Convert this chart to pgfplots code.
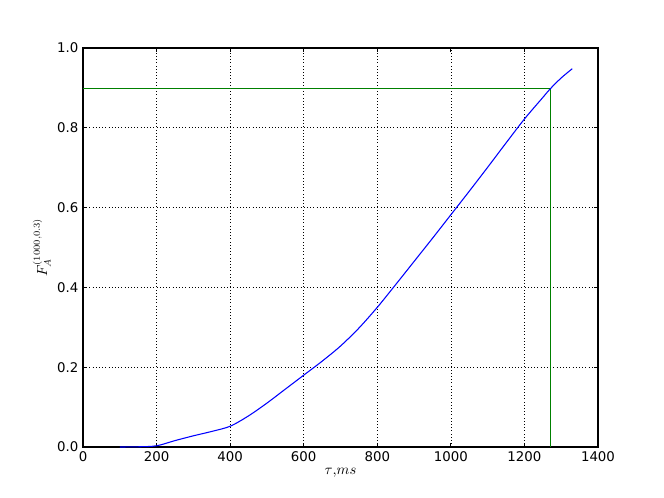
\documentclass[border=0pt]{standalone}
\usepackage{pgfplots}
\pgfplotsset{compat=1.18}
\usepackage{fontspec}
\setmainfont{DejaVu Sans}
\begin{document}
\begin{tikzpicture}
\begin{axis}[
  scale only axis,
  width=386.25pt, height=299.25pt,
  xmin=0, xmax=1400, ymin=0, ymax=1.0,
  xtick={0,200,...,1400},
  ytick={0,0.2,...,1.0},
  yticklabel style={/pgf/number format/.cd,fixed,fixed zerofill,precision=1},
  /pgf/number format/assume math mode=true,
  scaled x ticks=false,
  xticklabel style={/pgf/number format/1000 sep={}},
  tick label style={font=\fontsize{10}{12}\selectfont},
  tick align=inside,
  major tick length=3.3pt,
  tick style={black, line width=0.6pt},
  grid=major,
  major grid style={black, dotted, line width=0.5pt},
  axis line style={line width=0.8pt},
  xlabel={$\tau{,}ms$},
  ylabel={$F_A^{(1000,0.3)}$},
  label style={font=\fontsize{10.5}{12}\selectfont},
  xlabel style={yshift=2pt},
  ylabel style={yshift=-2pt},
  clip=false,
]
\coordinate (sw) at (rel axis cs:0,0);
\coordinate (ne) at (rel axis cs:1,1);
\addplot[color={rgb,1:red,0;green,0.5;blue,0}, line width=0.85pt] coordinates {(0,0.8975) (1270,0.8975) (1270,0)};
\addplot[blue, line width=0.8pt, smooth] coordinates {
(100,0) (150,0.0005) (200,0.003) (250,0.016) (300,0.028) (350,0.039) (400,0.052)
(450,0.078) (500,0.11) (550,0.145) (600,0.18) (650,0.215) (700,0.253) (750,0.298)
(800,0.35) (850,0.407) (900,0.465) (950,0.523) (1000,0.582) (1050,0.641)
(1100,0.701) (1150,0.762) (1200,0.822) (1250,0.876) (1270,0.8975) (1300,0.925) (1330,0.948)
};
\end{axis}
\path (sw) ++(-62.25pt,-38.25pt);
\path (ne) ++(49.5pt,36pt);
\end{tikzpicture}
\end{document}
